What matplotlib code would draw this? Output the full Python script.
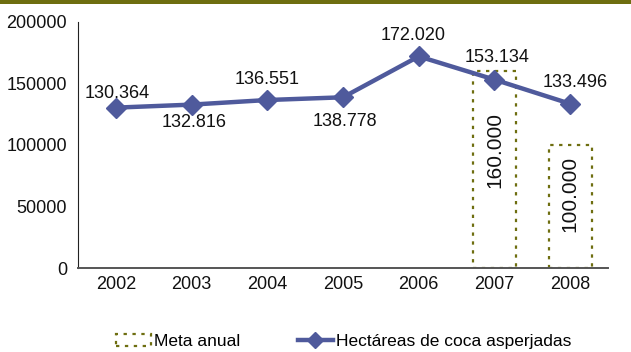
import matplotlib.pyplot as plt
from matplotlib.patches import Rectangle
from matplotlib.lines import Line2D

plt.rcParams["font.family"] = ["Liberation Sans", "DejaVu Sans"]

years = ["2002", "2003", "2004", "2005", "2006", "2007", "2008"]
hectareas = [130364, 132816, 136551, 138778, 172020, 153134, 133496]
hectareas_labels = ["130.364", "132.816", "136.551", "138.778", "172.020", "153.134", "133.496"]
meta_years = ["2007", "2008"]
meta = [160000, 100000]
meta_labels = ["160.000", "100.000"]

line_color = "#4f5a9c"
olive = "#6e6e10"

fig = plt.figure(figsize=(6.31, 3.52), dpi=100)
ax = fig.add_axes([0.1236, 0.2386, 0.84, 0.699])

x = list(range(len(years)))
meta_x = [years.index(y) for y in meta_years]

# annual targets as dotted empty boxes
ax.bar(meta_x, meta, width=0.57, fill=False, edgecolor=olive,
       linestyle=(0, (1.5, 2.5)), linewidth=1.6, zorder=1)
for xi, v, lab in zip(meta_x, meta, meta_labels):
    ax.text(xi, v * 0.6, lab, rotation=90, ha="center", va="center",
            fontsize=15, color="#111111")

ax.plot(x, hectareas, color=line_color, linewidth=3.2, marker="D",
        markersize=10, zorder=3)

# data labels: (dx in category units, dy in data units)
offsets = [(0.02, 11500), (0.04, -14600), (0.0, 17000), (0.02, -20000),
           (-0.08, 17000), (0.03, 18000), (0.07, 17000)]
for xi, v, lab, (dx, dy) in zip(x, hectareas, hectareas_labels, offsets):
    ax.text(xi + dx, v + dy, lab, ha="center", va="center", fontsize=13,
            color="#111111", zorder=4)

ax.set_xlim(-0.5, len(years) - 0.5)
ax.set_ylim(0, 200000)
ax.set_yticks([0, 50000, 100000, 150000, 200000])
ax.set_xticks(x)
ax.set_xticklabels(years)
ax.tick_params(length=0, labelsize=13, colors="#111111", pad=6)
ax.tick_params(axis="y", pad=8)
for side in ["top", "right"]:
    ax.spines[side].set_visible(False)
ax.spines["left"].set_color("#222222")
ax.spines["bottom"].set_color("#555555")
ax.spines["bottom"].set_linewidth(1.4)

handles = [
    Rectangle((0, 0), 1, 1, fill=False, edgecolor=olive,
              linestyle=(0, (1.5, 2.5)), linewidth=1.6),
    Line2D([], [], color=line_color, linewidth=3.2, marker="D", markersize=8),
]
fig.legend(handles, ["Meta anual", "Hectáreas de coca asperjadas"],
           loc="center", bbox_to_anchor=(0.545, 0.03), ncol=2, frameon=False,
           fontsize=12.5, handlelength=2.0, handletextpad=0.2,
           columnspacing=3.3)

# olive rule across the top
fig.add_artist(Rectangle((0, 0.99), 1, 0.01, transform=fig.transFigure,
                         color=olive, linewidth=0))

fig.savefig("out.png", dpi=100)
